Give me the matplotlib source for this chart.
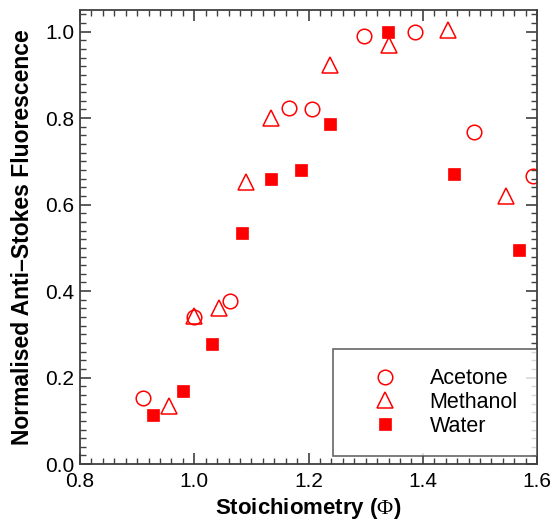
import numpy as np
import matplotlib
matplotlib.use("Agg")
import matplotlib.pyplot as plt
from matplotlib.ticker import MultipleLocator

plt.rcParams["font.family"] = ["Liberation Sans", "DejaVu Sans"]
plt.rcParams["mathtext.fontset"] = "custom"
plt.rcParams["mathtext.rm"] = "Liberation Serif"
plt.rcParams["mathtext.it"] = "Liberation Serif"

# data
acetone_x = [0.911, 1.000, 1.063, 1.165, 1.206, 1.297, 1.386, 1.489, 1.592]
acetone_y = [0.153, 0.339, 0.378, 0.824, 0.820, 0.989, 1.000, 0.767, 0.666]

methanol_x = [0.955, 1.000, 1.044, 1.091, 1.134, 1.237, 1.341, 1.444, 1.546]
methanol_y = [0.135, 0.343, 0.360, 0.652, 0.801, 0.923, 0.969, 1.003, 0.620]

water_x = [0.927, 0.980, 1.031, 1.083, 1.134, 1.187, 1.237, 1.339, 1.454, 1.569]
water_y = [0.113, 0.170, 0.277, 0.535, 0.659, 0.680, 0.786, 1.000, 0.671, 0.494]

xticks = [0.8, 1.0, 1.2, 1.4, 1.6]
yticks = [0.0, 0.2, 0.4, 0.6, 0.8, 1.0]

red = "#ff0000"

fig = plt.figure(figsize=(5.52, 5.25), dpi=100)
ax = fig.add_axes([0.145, 0.116, 0.828, 0.865])

ax.plot(acetone_x, acetone_y, linestyle="none", marker="o", markersize=10.5,
        markerfacecolor="none", markeredgecolor=red, markeredgewidth=1.1,
        label="Acetone")
ax.plot(methanol_x, methanol_y, linestyle="none", marker="^", markersize=12,
        markerfacecolor="none", markeredgecolor=red, markeredgewidth=1.1,
        label="Methanol")
ax.plot(water_x, water_y, linestyle="none", marker="s", markersize=9,
        markerfacecolor=red, markeredgecolor=red, markeredgewidth=0.5,
        label="Water")

ax.set_xlim(0.8, 1.6)
ax.set_ylim(0.0, 1.05)
ax.set_xticks(xticks)
ax.set_xticklabels([f"{v:.1f}" for v in xticks])
ax.set_yticks(yticks)
ax.set_yticklabels([f"{v:.1f}" for v in yticks])
ax.xaxis.set_minor_locator(MultipleLocator(0.02))
ax.yaxis.set_minor_locator(MultipleLocator(0.02))

ax.tick_params(which="both", direction="in", top=True, right=True,
               colors="#404040", labelcolor="black", labelsize=15)
ax.tick_params(axis="x", which="major", pad=6)
ax.tick_params(axis="y", which="major", pad=4)
ax.tick_params(which="major", length=8, width=1.2)
ax.tick_params(which="minor", length=4, width=1.0)
for s in ax.spines.values():
    s.set_color("#404040")
    s.set_linewidth(1.3)

ax.set_xlabel(r"Stoichiometry ($\Phi$)", fontsize=16, fontweight="bold", labelpad=3)
ax.set_ylabel("Normalised Anti\u2013Stokes Fluorescence", fontsize=16.5,
              fontweight="bold", labelpad=8)

leg = ax.legend(loc="lower right", bbox_to_anchor=(1.0, 0.018), fontsize=15.5,
                frameon=True, fancybox=False, edgecolor="#404040",
                handlelength=3.0, handletextpad=0.57, borderpad=0.9,
                labelspacing=0.12, borderaxespad=0.0)
leg.get_frame().set_linewidth(1.2)

fig.savefig("out.png", dpi=100)
